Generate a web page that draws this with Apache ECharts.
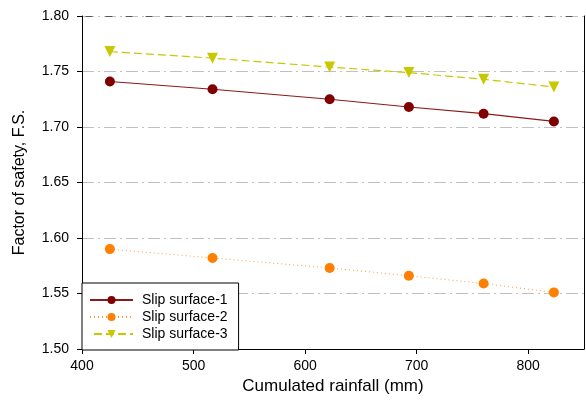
<!DOCTYPE html>
<html>
<head>
<meta charset="utf-8">
<script src="https://cdn.jsdelivr.net/npm/echarts@6/dist/echarts.min.js"></script>
<style>
  html, body { margin: 0; padding: 0; background: #fff; }
  #chart { width: 586px; height: 405px; }
</style>
</head>
<body>
<div id="chart"></div>
<script>
// rainfall (mm) at each stage
const rainfall = [425, 517, 622, 693, 760, 823]
const slip1 = [1.741, 1.734, 1.725, 1.718, 1.712, 1.705]
const slip2 = [1.590, 1.582, 1.573, 1.566, 1.559, 1.551]
const slip3 = [1.768, 1.762, 1.754, 1.749, 1.743, 1.736]
const xTicks = [400, 500, 600, 700, 800]
const seriesNames = ['Slip surface-1', 'Slip surface-2', 'Slip surface-3']

const font = 'Liberation Sans, Arial, sans-serif'
const pairs = (ys) => rainfall.map((x, i) => [x, ys[i]])

const chart = echarts.init(document.getElementById('chart'))
chart.setOption({
  animation: false,
  grid: { left: 82, right: 2, top: 16, bottom: 56 },
  legend: {
    left: 82,
    top: 283,
    orient: 'vertical',
    padding: [10, 11, 9, 7],
    itemWidth: 43,
    itemHeight: 10,
    itemGap: 3,
    borderColor: '#000',
    borderWidth: 1,
    backgroundColor: '#fff',
    textStyle: { fontFamily: font, fontSize: 14, color: '#000', padding: [0, 0, 0, 4] },
    data: seriesNames
  },
  xAxis: [
    {
      type: 'value',
      min: 400,
      max: 850,
      interval: 100,
      name: 'Cumulated rainfall (mm)',
      nameLocation: 'middle',
      nameGap: 28,
      nameTextStyle: { fontFamily: font, fontSize: 17, color: '#000' },
      axisLine: { show: true, onZero: false, lineStyle: { color: '#000', width: 1 } },
      axisTick: { show: true, inside: false, length: 5, customValues: xTicks, lineStyle: { color: '#000' } },
      axisLabel: { customValues: xTicks, fontFamily: font, fontSize: 14, color: '#000', margin: 10 },
      splitLine: { show: false }
    },
    {
      type: 'value',
      position: 'top',
      min: 400,
      max: 850,
      axisLine: { show: true, lineStyle: { color: '#555', width: 1, type: [6, 14], dashOffset: -4 } },
      axisTick: { show: false },
      axisLabel: { show: false },
      splitLine: { show: false }
    }
  ],
  yAxis: [
    {
      type: 'value',
      min: 1.5,
      max: 1.8,
      interval: 0.05,
      name: 'Factor of safety, F.S.',
      nameLocation: 'middle',
      nameGap: 54,
      nameTextStyle: { fontFamily: font, fontSize: 16, color: '#000' },
      axisLine: { show: true, lineStyle: { color: '#000', width: 1 } },
      axisTick: { show: true, inside: false, length: 5, lineStyle: { color: '#000' } },
      axisLabel: { fontFamily: font, fontSize: 14, color: '#000', margin: 13, formatter: (v) => v.toFixed(2) },
      splitLine: { show: true, lineStyle: { color: '#c0c0c0', width: 1, type: [12, 4, 2, 4] } }
    },
    {
      type: 'value',
      position: 'right',
      min: 1.5,
      max: 1.8,
      axisLine: { show: true, lineStyle: { color: '#000', width: 1 } },
      axisTick: { show: false },
      axisLabel: { show: false },
      splitLine: { show: false }
    }
  ],
  series: [
    {
      name: seriesNames[0],
      type: 'line',
      data: pairs(slip1),
      symbol: 'circle',
      symbolSize: 10,
      itemStyle: { color: '#800000' },
      lineStyle: { color: '#8b1a1a', width: 1.2, type: 'solid' }
    },
    {
      name: seriesNames[1],
      type: 'line',
      data: pairs(slip2),
      symbol: 'circle',
      symbolSize: 10,
      itemStyle: { color: '#ff8000' },
      lineStyle: { color: '#ff9a33', width: 1, type: [1, 3] }
    },
    {
      name: seriesNames[2],
      type: 'line',
      data: pairs(slip3),
      symbol: 'triangle',
      symbolRotate: 180,
      symbolSize: 11,
      itemStyle: { color: '#c8c800' },
      lineStyle: { color: '#c8c800', width: 1.2, type: [8, 4] }
    }
  ]
})
</script>
</body>
</html>
